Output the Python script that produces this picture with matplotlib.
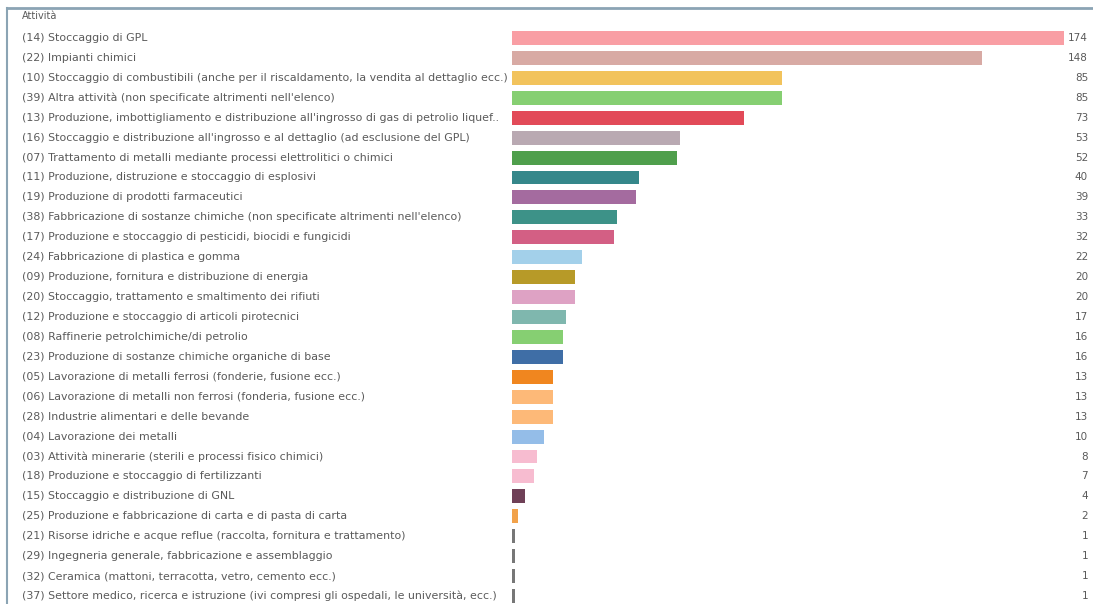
import matplotlib
matplotlib.use("Agg")
import matplotlib.pyplot as plt
from matplotlib.lines import Line2D
from matplotlib.transforms import blended_transform_factory

header = "Attività"

labels = [
    "(14) Stoccaggio di GPL",
    "(22) Impianti chimici",
    "(10) Stoccaggio di combustibili (anche per il riscaldamento, la vendita al dettaglio ecc.)",
    "(39) Altra attività (non specificate altrimenti nell'elenco)",
    "(13) Produzione, imbottigliamento e distribuzione all'ingrosso di gas di petrolio liquef..",
    "(16) Stoccaggio e distribuzione all'ingrosso e al dettaglio (ad esclusione del GPL)",
    "(07) Trattamento di metalli mediante processi elettrolitici o chimici",
    "(11) Produzione, distruzione e stoccaggio di esplosivi",
    "(19) Produzione di prodotti farmaceutici",
    "(38) Fabbricazione di sostanze chimiche (non specificate altrimenti nell'elenco)",
    "(17) Produzione e stoccaggio di pesticidi, biocidi e fungicidi",
    "(24) Fabbricazione di plastica e gomma",
    "(09) Produzione, fornitura e distribuzione di energia",
    "(20) Stoccaggio, trattamento e smaltimento dei rifiuti",
    "(12) Produzione e stoccaggio di articoli pirotecnici",
    "(08) Raffinerie petrolchimiche/di petrolio",
    "(23) Produzione di sostanze chimiche organiche di base",
    "(05) Lavorazione di metalli ferrosi (fonderie, fusione ecc.)",
    "(06) Lavorazione di metalli non ferrosi (fonderia, fusione ecc.)",
    "(28) Industrie alimentari e delle bevande",
    "(04) Lavorazione dei metalli",
    "(03) Attività minerarie (sterili e processi fisico chimici)",
    "(18) Produzione e stoccaggio di fertilizzanti",
    "(15) Stoccaggio e distribuzione di GNL",
    "(25) Produzione e fabbricazione di carta e di pasta di carta",
    "(21) Risorse idriche e acque reflue (raccolta, fornitura e trattamento)",
    "(29) Ingegneria generale, fabbricazione e assemblaggio",
    "(32) Ceramica (mattoni, terracotta, vetro, cemento ecc.)",
    "(37) Settore medico, ricerca e istruzione (ivi compresi gli ospedali, le università, ecc.)",
]

values = [174, 148, 85, 85, 73, 53, 52, 40, 39, 33, 32, 22, 20, 20, 17, 16, 16,
          13, 13, 13, 10, 8, 7, 4, 2, 1, 1, 1, 1]

colors = ["#f99ea4", "#d8aaa4", "#f2c35c", "#86cf72", "#e24a58", "#b9a9b2",
          "#4f9f4c", "#35878a", "#a46b9f", "#3d9288", "#d35f84", "#a3d0ea",
          "#b79a28", "#dea2c4", "#7fb7ae", "#86cf72", "#3f6ea6", "#f0861f",
          "#fdb978", "#fdb978", "#94bde8", "#f7bcd0", "#f7bcd0", "#6f4057",
          "#f2a24a", "#777777", "#777777", "#777777", "#777777"]

W, H = 1093, 604
fig = plt.figure(figsize=(W / 100, H / 100), dpi=100)
fig.patch.set_facecolor("white")

# x 0..174 spans pixels 512..1064, rows centred at 38 + 19.93*i
ax = fig.add_axes([512 / W, 0, 552 / W, 576 / H])
ypos = list(range(len(values)))
ax.barh(ypos, values, height=0.7, color=colors, edgecolor="none")
ax.set_xlim(0, 174)
ax.set_ylim(28.4, -0.5)
ax.axis("off")

trans = blended_transform_factory(fig.transFigure, ax.transData)
for i, (lab, v) in enumerate(zip(labels, values)):
    ax.text(22 / W, i, lab, transform=trans, ha="left", va="center",
            fontsize=7.9, color="#5a5a5a")
    ax.text(1088 / W, i, str(v), transform=trans, ha="right", va="center",
            fontsize=7.5, color="#5a5a5a")

fig.text(22 / W, 1 - 16 / H, header, ha="left", va="center", fontsize=7, color="#5a5a5a")

# frame lines (top and left)
fig.add_artist(Line2D([7 / W, 1], [1 - 8 / H, 1 - 8 / H], transform=fig.transFigure,
                      color="#8ba4b4", lw=2))
fig.add_artist(Line2D([7 / W, 7 / W], [0, 1 - 8 / H], transform=fig.transFigure,
                      color="#8ba4b4", lw=1.5))

fig.savefig("out.png", dpi=100)
